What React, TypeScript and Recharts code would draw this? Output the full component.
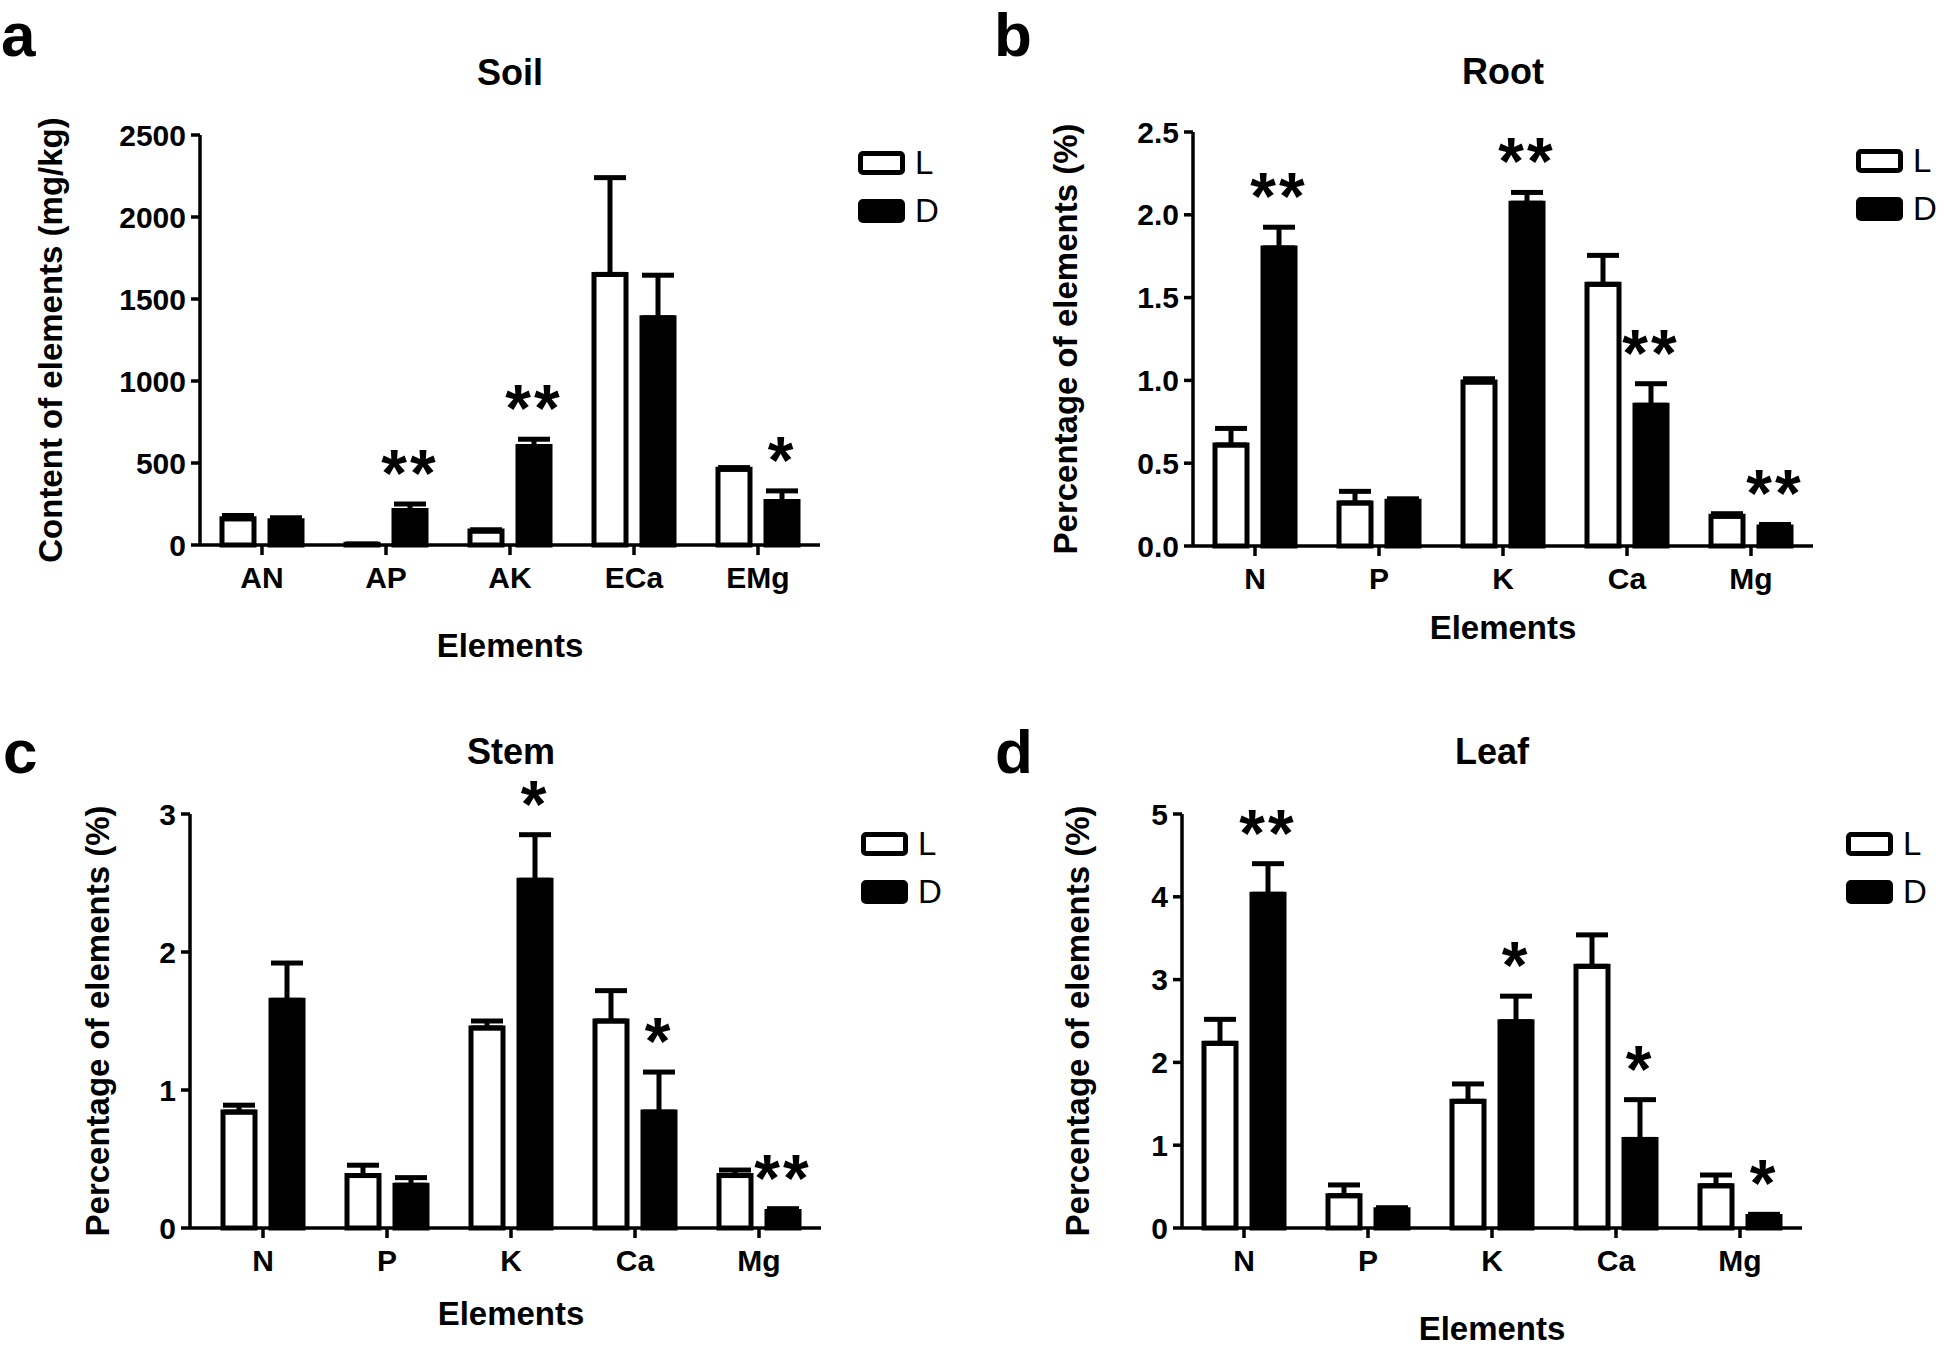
import React from 'react'
import { BarChart, Bar, XAxis, YAxis, ErrorBar, LabelList, Legend } from 'recharts'

const FONT = '"Liberation Sans", Arial, Helvetica, sans-serif'
const PANEL_W = 973
const PANEL_H = 674
const X_AXIS_H = 120

// a — soil, mg/kg
const soilCats = ['AN', 'AP', 'AK', 'ECa', 'EMg']
const soilL = [160, 5, 85, 1650, 462]
const soilLErr = [20, 0, 8, 590, 10]
const soilD = [148, 210, 600, 1385, 265]
const soilDErr = [18, 40, 45, 260, 65]
const soilSig = ['', '**', '**', '', '*']
const soilTicks = [0, 500, 1000, 1500, 2000, 2500]

// b, c, d — tissue, %
const elementCats = ['N', 'P', 'K', 'Ca', 'Mg']

const rootL = [0.61, 0.26, 0.99, 1.58, 0.18]
const rootLErr = [0.1, 0.07, 0.02, 0.175, 0.015]
const rootD = [1.8, 0.27, 2.07, 0.85, 0.115]
const rootDErr = [0.125, 0.015, 0.065, 0.13, 0.015]
const rootSig = ['**', '', '**', '**', '**']
const rootTicks = [0, 0.5, 1, 1.5, 2, 2.5]

const stemL = [0.84, 0.38, 1.45, 1.5, 0.38]
const stemLErr = [0.05, 0.075, 0.05, 0.22, 0.04]
const stemD = [1.65, 0.31, 2.52, 0.84, 0.12]
const stemDErr = [0.27, 0.055, 0.33, 0.29, 0.02]
const stemSig = ['', '', '*', '*', '**']
const stemTicks = [0, 1, 2, 3]

const leafL = [2.23, 0.39, 1.53, 3.16, 0.51]
const leafLErr = [0.29, 0.13, 0.21, 0.38, 0.13]
const leafD = [4.03, 0.22, 2.49, 1.07, 0.14]
const leafDErr = [0.37, 0.025, 0.31, 0.48, 0.025]
const leafSig = ['**', '', '*', '*', '*']
const leafTicks = [0, 1, 2, 3, 4, 5]

const SERIES = ['L', 'D']
const SERIES_FILL: Record<string, string> = { L: '#fff', D: '#000' }

function buildRows(cats, l, lErr, d, dErr, sig) {
  return cats.map((name, i) => ({
    name,
    l: l[i],
    lErr: [0, lErr[i]], // one-sided (upper) error bars
    d: d[i],
    dErr: [0, dErr[i]],
    dUp: dErr[i],
    sig: sig[i],
  }))
}

const panels = [
  {
    letter: 'a', title: 'Soil', yTitle: 'Content of elements (mg/kg)',
    rows: buildRows(soilCats, soilL, soilLErr, soilD, soilDErr, soilSig),
    ticks: soilTicks, fmt: (v: number) => String(v),
    ox: 0, oy: 0, axisX: 200, top: 135, zero: 545, right: 820, padLeft: 0,
    yTitleX: 50, xTitleOff: 112, titleY: 85, letterX: 1, letterY: 56,
    legX: 858, legY: 151,
  },
  {
    letter: 'b', title: 'Root', yTitle: 'Percentage of elements (%)',
    rows: buildRows(elementCats, rootL, rootLErr, rootD, rootDErr, rootSig),
    ticks: rootTicks, fmt: (v: number) => v.toFixed(1),
    ox: 973, oy: 0, axisX: 220, top: 132, zero: 546, right: 840, padLeft: 0,
    yTitleX: 92, xTitleOff: 93, titleY: 84, letterX: 21, letterY: 56,
    legX: 883, legY: 149,
  },
  {
    letter: 'c', title: 'Stem', yTitle: 'Percentage of elements (%)',
    rows: buildRows(elementCats, stemL, stemLErr, stemD, stemDErr, stemSig),
    ticks: stemTicks, fmt: (v: number) => String(v),
    ox: 0, oy: 674, axisX: 190, top: 140, zero: 554, right: 821, padLeft: 11,
    yTitleX: 97, xTitleOff: 97, titleY: 90, letterX: 3, letterY: 99,
    legX: 861, legY: 158,
  },
  {
    letter: 'd', title: 'Leaf', yTitle: 'Percentage of elements (%)',
    rows: buildRows(elementCats, leafL, leafLErr, leafD, leafDErr, leafSig),
    ticks: leafTicks, fmt: (v: number) => String(v),
    ox: 973, oy: 674, axisX: 209, top: 140, zero: 554, right: 829, padLeft: 0,
    yTitleX: 104, xTitleOff: 112, titleY: 90, letterX: 22, letterY: 99,
    legX: 873, legY: 158,
  },
]

const axisStroke = { stroke: '#000', strokeWidth: 3.5 }
const tickFont = { fill: '#000', fontSize: 30, fontWeight: 'bold', fontFamily: FONT }

// asterisks sit a fixed distance above the top of the D error bar
function starLabel(rows) {
  return (p: any) => {
    const r = rows[p.index]
    if (!r || !r.sig) return null
    const vb = p.viewBox ?? p
    const { x, y, width, height } = vb
    const perUnit = height / r.d
    const errTop = y - r.dUp * perUnit
    return (
      <text
        x={x + width / 2}
        y={errTop - 8}
        textAnchor="middle"
        fontSize={66}
        fontWeight="bold"
        fontFamily={FONT}
        letterSpacing={3}
        fill="#000"
      >
        {r.sig}
      </text>
    )
  }
}

function LegendBoxes({ payload }: { payload?: Array<{ value?: string }> }) {
  const items = [...(payload ?? [])].sort(
    (a, b) => SERIES.indexOf(a.value ?? '') - SERIES.indexOf(b.value ?? ''),
  )
  return (
    <div style={{ fontFamily: FONT }}>
      {items.map((e, i) => (
        <div key={e.value} style={{ display: 'flex', alignItems: 'center', height: 24, marginTop: i ? 24 : 0 }}>
          <span
            style={{
              display: 'inline-block', width: 47, height: 24, boxSizing: 'border-box',
              border: '5px solid #000', borderRadius: 5, background: SERIES_FILL[e.value ?? 'L'],
            }}
          />
          <span style={{ marginLeft: 10, fontSize: 33, lineHeight: '24px', color: '#000' }}>{e.value}</span>
        </div>
      ))}
    </div>
  )
}

function Panel({ cfg }) {
  const plotCenter = (cfg.axisX + cfg.padLeft + cfg.right) / 2
  const yMid = (cfg.top + cfg.zero) / 2
  const yTitleBase = cfg.yTitleX + 12
  return (
    <div style={{ position: 'absolute', left: cfg.ox, top: cfg.oy, width: PANEL_W, height: PANEL_H }}>
      <BarChart
        width={PANEL_W}
        height={PANEL_H}
        data={cfg.rows}
        margin={{ top: cfg.top, right: PANEL_W - cfg.right, left: 0, bottom: PANEL_H - cfg.zero - X_AXIS_H }}
        barSize={32}
        barGap={16}
      >
        <XAxis
          dataKey="name"
          height={X_AXIS_H}
          interval={0}
          padding={{ left: cfg.padLeft, right: 0 }}
          axisLine={axisStroke}
          tickLine={axisStroke}
          tickSize={10}
          tickMargin={12}
          tick={tickFont}
        />
        <YAxis
          type="number"
          width={cfg.axisX}
          domain={[0, cfg.ticks[cfg.ticks.length - 1]]}
          ticks={cfg.ticks}
          interval={0}
          tickFormatter={cfg.fmt}
          axisLine={axisStroke}
          tickLine={axisStroke}
          tickSize={9}
          tickMargin={5}
          tick={tickFont}
        />
        <Bar dataKey="l" name="L" fill="#fff" stroke="#000" strokeWidth={5} isAnimationActive={false}>
          <ErrorBar dataKey="lErr" direction="y" width={16} stroke="#000" strokeWidth={5} isAnimationActive={false} />
        </Bar>
        <Bar dataKey="d" name="D" fill="#000" stroke="#000" strokeWidth={5} isAnimationActive={false}>
          <ErrorBar dataKey="dErr" direction="y" width={16} stroke="#000" strokeWidth={5} isAnimationActive={false} />
          <LabelList dataKey="sig" content={starLabel(cfg.rows)} />
        </Bar>
        <Legend
          layout="vertical"
          align="center"
          verticalAlign="middle"
          wrapperStyle={{ left: cfg.legX, top: cfg.legY, width: 'auto' }}
          content={<LegendBoxes />}
        />
      </BarChart>
      <svg
        width={PANEL_W}
        height={PANEL_H}
        style={{ position: 'absolute', left: 0, top: 0, pointerEvents: 'none' }}
        fontFamily={FONT}
        fill="#000"
      >
        <text x={cfg.letterX} y={cfg.letterY} fontSize={62} fontWeight="bold">{cfg.letter}</text>
        <text x={plotCenter} y={cfg.titleY} fontSize={36} fontWeight="bold" textAnchor="middle">{cfg.title}</text>
        <text
          x={yTitleBase}
          y={yMid}
          fontSize={33}
          fontWeight="bold"
          textAnchor="middle"
          transform={`rotate(-90 ${yTitleBase} ${yMid})`}
        >
          {cfg.yTitle}
        </text>
        <text x={plotCenter} y={cfg.zero + cfg.xTitleOff} fontSize={33} fontWeight="bold" textAnchor="middle">
          Elements
        </text>
      </svg>
    </div>
  )
}

export default function App() {
  return (
    <div style={{ position: 'absolute', left: 0, top: 0, width: 1946, height: 1348, background: '#fff', overflow: 'hidden' }}>
      {panels.map((cfg) => (
        <Panel key={cfg.letter} cfg={cfg} />
      ))}
    </div>
  )
}
